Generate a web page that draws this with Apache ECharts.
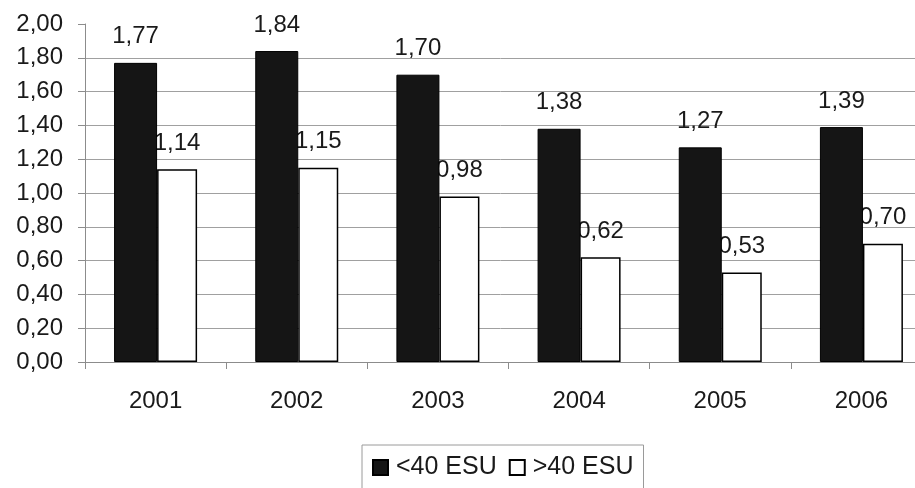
<!DOCTYPE html>
<html>
<head>
<meta charset="utf-8">
<script src="https://cdn.jsdelivr.net/npm/echarts@6/dist/echarts.min.js"></script>
<style>
  html, body { margin: 0; padding: 0; background: #fff; }
  #chart { width: 915px; height: 488px; }
</style>
</head>
<body>
<div id="chart"></div>
<script>
const years = ['2001', '2002', '2003', '2004', '2005', '2006'];
const small = [1.77, 1.84, 1.70, 1.38, 1.27, 1.39];   // <40 ESU
const large = [1.14, 1.15, 0.98, 0.62, 0.53, 0.70];   // >40 ESU
const yTicks = [0, 0.2, 0.4, 0.6, 0.8, 1.0, 1.2, 1.4, 1.6, 1.8, 2.0];

const fmt = v => Number(v).toFixed(2).replace('.', ',');
const FONT = 'Liberation Sans, Arial, sans-serif';
const FS = 24;
const chart = echarts.init(document.getElementById('chart'));

chart.setOption({
  backgroundColor: '#ffffff',
  animation: false,
  textStyle: { fontFamily: FONT },
  grid: {
    left: 85, top: 24, width: 847, height: 338,
    containLabel: false, outerBoundsMode: 'none'
  },
  legend: {
    left: 362, top: 445,
    itemWidth: 15, itemHeight: 15, itemGap: 12,
    padding: [10, 10, 14, 10],
    borderColor: '#9a9a9a', borderWidth: 1,
    icon: 'rect',
    textStyle: { fontSize: 25, color: '#1a1a1a', fontFamily: FONT, padding: [0, 0, 0, 3] },
    data: ['<40 ESU', '>40 ESU']
  },
  xAxis: {
    type: 'category',
    data: years,
    axisLine: { lineStyle: { color: '#8c8c8c', width: 1 } },
    axisTick: { show: true, length: 7, lineStyle: { color: '#8c8c8c' } },
    axisLabel: { fontSize: FS, color: '#1a1a1a', margin: 27, fontFamily: FONT },
    splitLine: { show: false }
  },
  yAxis: {
    type: 'value',
    min: yTicks[0], max: yTicks[yTicks.length - 1], interval: 0.2,
    axisLine: { show: true, lineStyle: { color: '#8c8c8c', width: 1 } },
    axisTick: { show: true, length: 7, lineStyle: { color: '#8c8c8c' } },
    axisLabel: { fontSize: FS, color: '#1a1a1a', margin: 22, fontFamily: FONT, formatter: fmt },
    splitLine: {
      show: true,
      lineStyle: { color: '#a0a0a0', width: 1 },
      showMaxLine: false
    }
  },
  series: [
    {
      name: '<40 ESU',
      type: 'bar',
      data: small,
      z: 3,
      barWidth: 43,
      barGap: '0%',
      itemStyle: { color: '#151515', borderColor: '#000', borderWidth: 1 },
      label: {
        show: true, position: 'top', distance: 14,
        fontSize: FS, color: '#1a1a1a', fontFamily: FONT,
        formatter: p => fmt(p.value)
      }
    },
    {
      name: '>40 ESU',
      type: 'bar',
      data: large,
      z: 2,
      barWidth: 40,
      barGap: '0%',
      itemStyle: { color: '#ffffff', borderColor: '#000', borderWidth: 1.5 },
      label: {
        show: true, position: 'top', distance: 14,
        fontSize: FS, color: '#1a1a1a', fontFamily: FONT,
        formatter: p => fmt(p.value)
      }
    }
  ]
});
</script>
</body>
</html>
